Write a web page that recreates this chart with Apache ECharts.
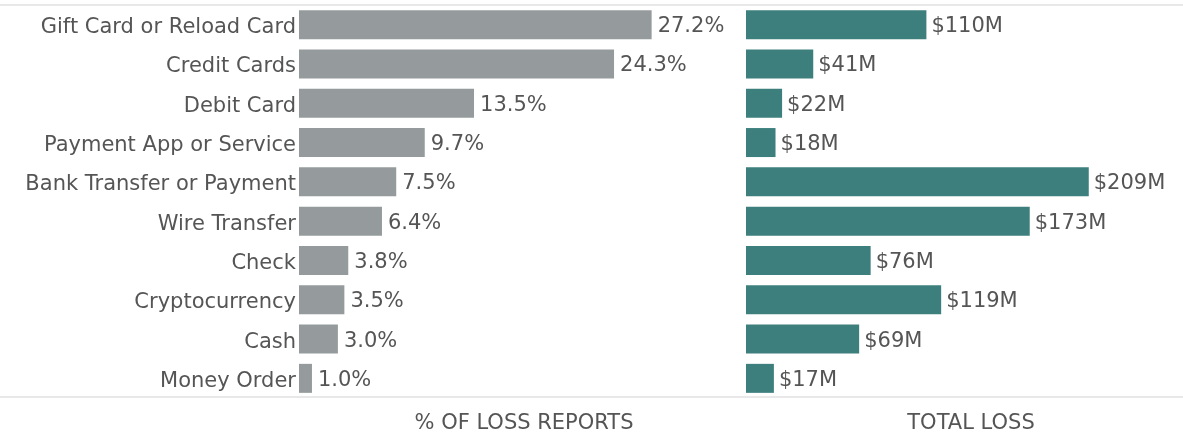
<!DOCTYPE html>
<html>
<head>
<meta charset="utf-8">
<style>
  html, body { margin: 0; padding: 0; background: #fff; }
  #chart { width: 1183px; height: 436px; }
</style>
<script src="https://cdn.jsdelivr.net/npm/echarts@6/dist/echarts.min.js"></script>
</head>
<body>
<div id="chart"></div>
<script>
  // payment methods, top to bottom
  var categories = ['Gift Card or Reload Card', 'Credit Cards', 'Debit Card', 'Payment App or Service',
    'Bank Transfer or Payment', 'Wire Transfer', 'Check', 'Cryptocurrency', 'Cash', 'Money Order'];
  var reportShare = [27.2, 24.3, 13.5, 9.7, 7.5, 6.4, 3.8, 3.5, 3.0, 1.0];
  var totalLoss = [110, 41, 22, 18, 209, 173, 76, 119, 69, 17];
  var axisTitles = ['% OF LOSS REPORTS', 'TOTAL LOSS'];

  var textColor = '#555';
  var fontFamily = '"DejaVu Sans", sans-serif';
  var fontSize = 21;

  var myChart = echarts.init(document.getElementById('chart'));

  var option = {
    backgroundColor: '#fff',
    animation: false,
    textStyle: { fontFamily: fontFamily },
    grid: [
      { left: 299, top: 5, width: 363, height: 393 },
      { left: 746, top: 5, width: 410, height: 393 }
    ],
    xAxis: [
      { gridIndex: 0, type: 'value', min: 0, max: 28, show: false },
      { gridIndex: 1, type: 'value', min: 0, max: 250, show: false }
    ],
    yAxis: [
      {
        gridIndex: 0, type: 'category', data: categories, inverse: true,
        axisLine: { show: false }, axisTick: { show: false },
        axisLabel: {
          margin: 3,
          formatter: function(v) { return '{c|' + v + '}'; },
          rich: {
            c: { fontSize: fontSize, color: textColor, fontFamily: fontFamily, padding: [6, 0, 0, 0] }
          }
        }
      },
      {
        gridIndex: 1, type: 'category', data: categories, inverse: true,
        axisLine: { show: false }, axisTick: { show: false }, axisLabel: { show: false }
      }
    ],
    series: [
      {
        type: 'bar', xAxisIndex: 0, yAxisIndex: 0, data: reportShare,
        barWidth: 29,
        itemStyle: { color: '#959b9c' },
        label: {
          show: true, position: 'right', distance: 6, offset: [0, 2],
          fontSize: fontSize, color: textColor, fontFamily: fontFamily,
          formatter: function(p) { return p.value.toFixed(1) + '%'; }
        }
      },
      {
        type: 'bar', xAxisIndex: 1, yAxisIndex: 1, data: totalLoss,
        barWidth: 29,
        itemStyle: { color: '#3c7f7d' },
        label: {
          show: true, position: 'right', distance: 5, offset: [0, 2],
          fontSize: fontSize, color: textColor, fontFamily: fontFamily,
          formatter: function(p) { return '$' + p.value + 'M'; }
        }
      }
    ],
    graphic: [
      { type: 'line', shape: { x1: 0, y1: 5, x2: 1183, y2: 5 }, style: { stroke: '#e0e0e0', lineWidth: 1.5 } },
      { type: 'line', shape: { x1: 0, y1: 397, x2: 1183, y2: 397 }, style: { stroke: '#e0e0e0', lineWidth: 1.5 } },
      {
        type: 'text', x: 524, y: 424,
        style: { text: axisTitles[0], fill: textColor, font: '21px ' + fontFamily, textAlign: 'center', textVerticalAlign: 'middle' }
      },
      {
        type: 'text', x: 971, y: 424,
        style: { text: axisTitles[1], fill: textColor, font: '21px ' + fontFamily, textAlign: 'center', textVerticalAlign: 'middle' }
      }
    ]
  };

  myChart.setOption(option);
</script>
</body>
</html>
